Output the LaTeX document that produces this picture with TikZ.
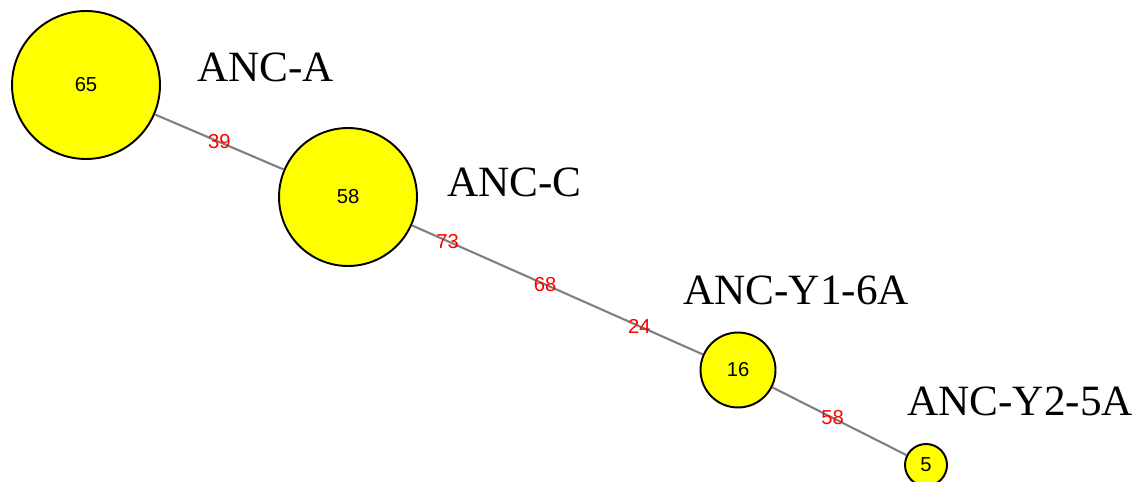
\documentclass[tikz,border=0pt]{standalone}
\usepackage{fontspec}
\setmainfont{Liberation Serif}
\newfontfamily\numfont{Liberation Sans}
\usetikzlibrary{positioning}
\definecolor{hapyellow}{RGB}{255,255,0}
\definecolor{linkgray}{RGB}{128,128,128}

\begin{document}
\begin{tikzpicture}[x=0.02cm,y=-0.02cm,
  hap/.style={circle,draw=black,line width=1.1pt,fill=hapyellow,inner sep=0pt,font=\numfont\fontsize{11.5}{13}\selectfont},
  tag/.style={anchor=base west,inner sep=0pt,font=\fontsize{24.6}{28}\selectfont},
  link/.style={draw=linkgray,line width=1.2pt},
  cnt/.style={text=red,inner sep=0pt,font=\numfont\fontsize{11.5}{13}\selectfont}]
\useasboundingbox (0,0) rectangle (1142,482);
 %haplotype circles
\node[hap,minimum size=2.96cm] (ancA) at (86,85) {65};
\node[hap,minimum size=2.76cm] (ancC) at (348,197) {58};
\node[hap,minimum size=1.5cm] (ancY1) at (738,370) {16};
\node[hap,minimum size=0.84cm] (ancY2) at (926,465) {5};
 %names
\node[tag] (labA) at (197,82) {ANC-A};
\node[tag] (labC) at (447,197) {ANC-C};
\node[tag] (labY1) at (683,305) {ANC-Y1-6A};
\node[tag] (labY2) at (907,416) {ANC-Y2-5A};
 %links
\begin{scope}[on background layer/.try]
\draw[link] (ancA) -- node[cnt,pos=0.5] {39} (ancC);
\draw[link] (ancC) -- node[cnt,pos=0.123] {73} node[cnt,pos=0.458] {68} node[cnt,pos=0.782] {24} (ancY1);
\draw[link] (ancY1) -- node[cnt,pos=0.45] {58} (ancY2);
\end{scope}
\end{tikzpicture}
\end{document}
